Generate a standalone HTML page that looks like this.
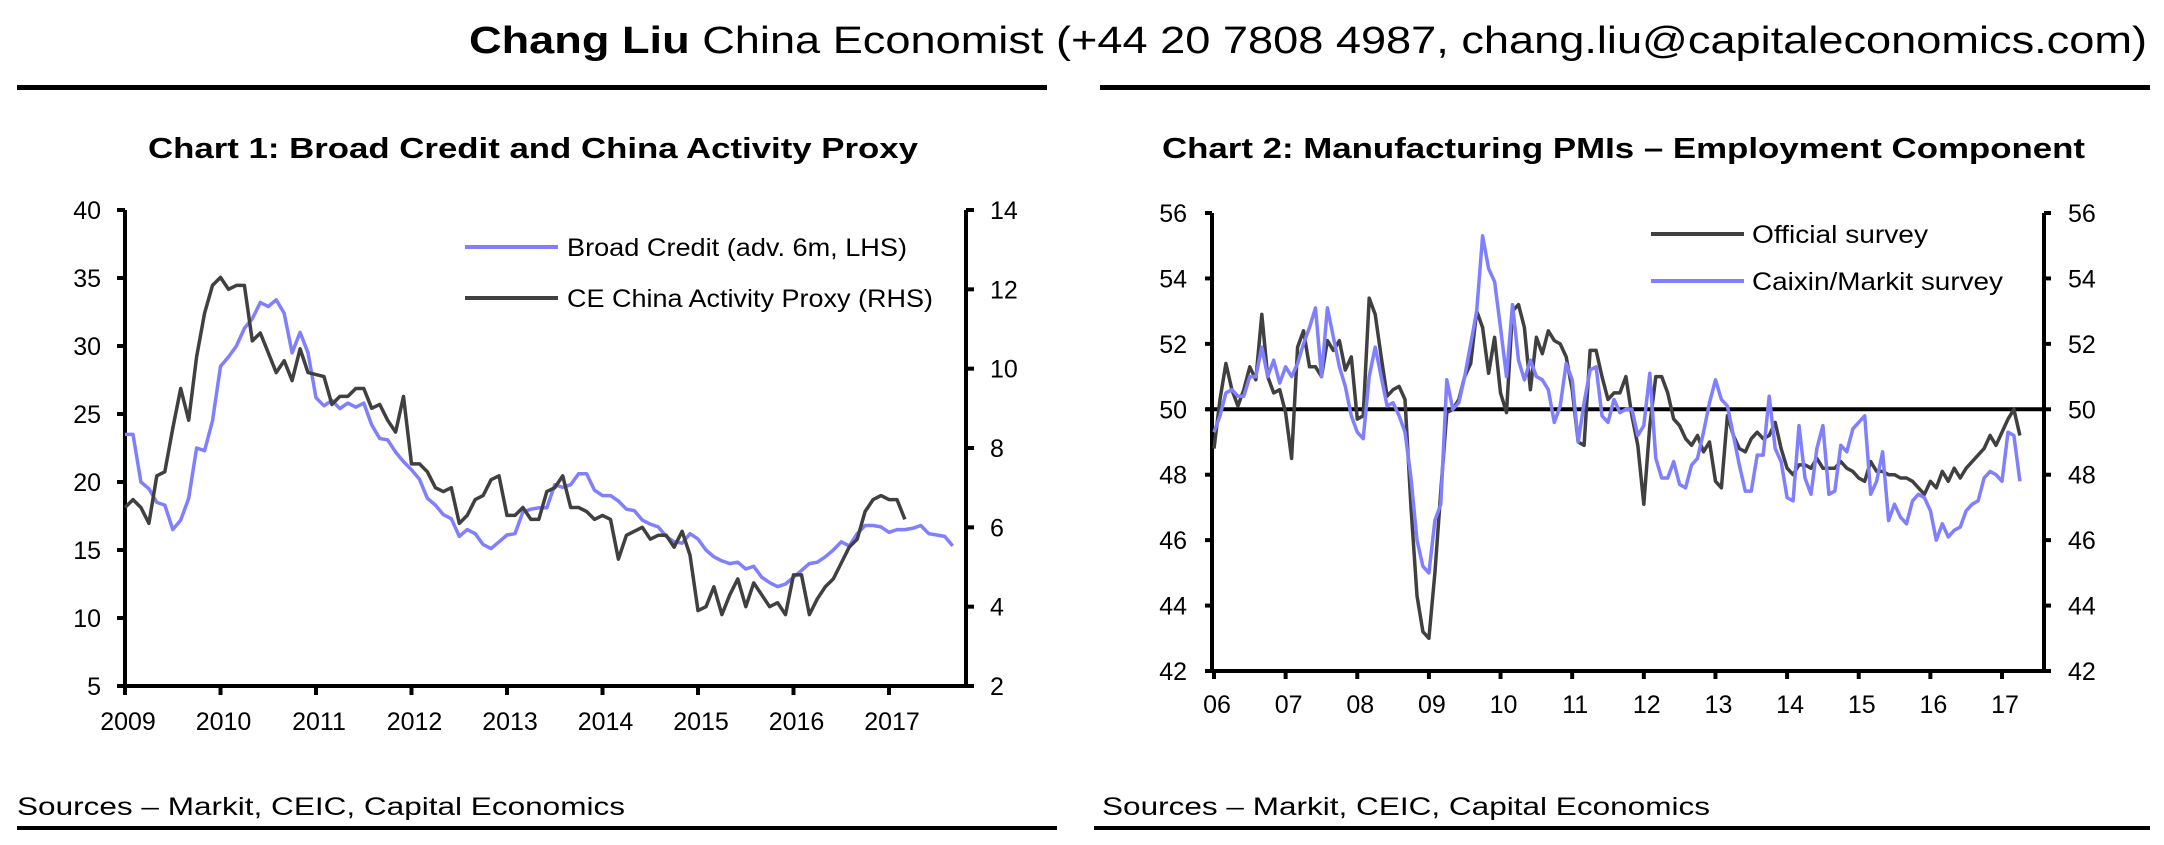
<!DOCTYPE html>
<html><head><meta charset="utf-8"><style>
html,body{margin:0;padding:0;background:#fff;}
svg{display:block;font-family:"Liberation Sans",sans-serif;}
</style></head><body>
<svg id="s" width="2164" height="845" viewBox="0 0 2164 845" xmlns="http://www.w3.org/2000/svg">
<text x="469" y="53" font-size="38" textLength="1678" lengthAdjust="spacingAndGlyphs" fill="#000"><tspan font-weight="bold">Chang Liu</tspan> China Economist (+44 20 7808 4987, chang.liu@capitaleconomics.com)</text>
<rect x="17" y="85" width="1030" height="5" fill="#000"/>
<rect x="1100" y="85" width="1050" height="5" fill="#000"/>
<text x="148" y="158" font-size="29" font-weight="bold" textLength="770" lengthAdjust="spacingAndGlyphs">Chart 1: Broad Credit and China Activity Proxy</text>
<text x="1162" y="158" font-size="29" font-weight="bold" textLength="923" lengthAdjust="spacingAndGlyphs">Chart 2: Manufacturing PMIs – Employment Component</text>
<text x="17" y="815" font-size="25" textLength="608" lengthAdjust="spacingAndGlyphs">Sources – Markit, CEIC, Capital Economics</text>
<text x="1102" y="815" font-size="25" textLength="608" lengthAdjust="spacingAndGlyphs">Sources – Markit, CEIC, Capital Economics</text>
<rect x="17" y="826" width="1040" height="4" fill="#000"/>
<rect x="1094" y="826" width="1056" height="4" fill="#000"/>
<g id="c1"></g>
<g id="c2"></g>
</svg>
<script>
const NS="http://www.w3.org/2000/svg";
// Chart 1 data (monthly from Jan 2009)
const c1LeftTicks=[5,10,15,20,25,30,35,40];
const c1RightTicks=[2,4,6,8,10,12,14];
const c1Years=[2009,2010,2011,2012,2013,2014,2015,2016,2017];
const broadCredit=[23.5,23.5,20,19.5,18.5,18.3,16.5,17.2,18.8,22.5,22.3,24.5,
28.5,29.2,30,31.3,32,33.2,32.9,33.4,32.4,29.5,31,29.5,
26.2,25.6,26,25.4,25.8,25.5,25.8,24.2,23.2,23.1,22.2,21.5,
20.9,20.2,18.8,18.3,17.6,17.3,16,16.5,16.2,15.4,15.1,15.6,
16.1,16.2,17.8,18,18.1,18.1,19.8,19.6,19.8,20.6,20.6,19.4,
19,19,18.6,18,17.9,17.2,16.9,16.7,16,15.6,15.5,16.2,
15.8,15,14.5,14.2,14,14.1,13.6,13.8,13,12.6,12.3,12.5,
13,13.5,14,14.1,14.5,15,15.6,15.3,16.2,16.8,16.8,16.7,
16.3,16.5,16.5,16.6,16.8,16.2,16.1,16,15.3];
const activityProxy=[6.5,6.7,6.5,6.1,7.3,7.4,8.5,9.5,8.7,10.3,11.4,12.1,
12.3,12,12.1,12.1,10.7,10.9,10.4,9.9,10.2,9.7,10.5,9.9,
9.85,9.8,9.1,9.3,9.3,9.5,9.5,9,9.1,8.7,8.4,9.3,
7.6,7.6,7.4,7,6.9,7,6.1,6.3,6.7,6.8,7.2,7.3,
6.3,6.3,6.5,6.2,6.2,6.9,7,7.3,6.5,6.5,6.4,6.2,
6.3,6.2,5.2,5.8,5.9,6,5.7,5.8,5.8,5.5,5.9,5.3,
3.9,4,4.5,3.8,4.3,4.7,4,4.6,4.3,4,4.1,3.8,
4.8,4.8,3.8,4.2,4.5,4.7,5.1,5.5,5.7,6.4,6.7,6.8,
6.7,6.7,6.2];
// Chart 2 data (monthly from Jan 2006)
const c2Ticks=[42,44,46,48,50,52,54,56];
const c2Years=["06","07","08","09","10","11","12","13","14","15","16","17"];
const officialPMI=[48.8,50.3,51.4,50.6,50.1,50.6,51.3,50.9,52.9,51,50.5,50.6,
49.9,48.5,51.9,52.4,51.3,51.3,51,52.1,51.8,52.1,51.2,51.6,
49.7,49.8,53.4,52.9,51.6,50.4,50.6,50.7,50.3,47,44.3,43.2,
43,45,47.5,49.9,50,50.3,51,51.4,53,52.5,51.1,52.2,
50.5,49.9,53,53.2,52.5,50.6,52.2,51.7,52.4,52.1,52,51.6,
50.6,49,48.9,51.8,51.8,51,50.3,50.5,50.5,51,49.8,48.9,
47.1,49.5,51,51,50.5,49.7,49.5,49.1,48.9,49.2,48.7,49,
47.8,47.6,49.8,49.2,48.8,48.7,49.1,49.3,49.1,49.2,49.6,48.8,
48.2,48,48.3,48.3,48.2,48.5,48.2,48.2,48.2,48.4,48.2,48.1,
47.9,47.8,48.4,48.1,48.1,48,48,47.9,47.9,47.8,47.6,47.4,
47.8,47.6,48.1,47.8,48.2,47.9,48.2,48.4,48.6,48.8,49.2,48.9,
49.3,49.7,50,49.2];
const caixinPMI=[49.3,49.8,50.5,50.6,50.4,50.4,51,51,51.9,51,51.5,50.8,
51.3,51,51.4,52,52.5,53.1,51,53.1,52.2,51.3,50.7,49.8,
49.3,49.1,51,51.9,51,50.1,50.2,49.8,49.3,47.9,46,45.2,
45,46.6,47.1,50.9,50,50.2,51,52,53,55.3,54.3,53.9,
52.5,51,53.2,51.5,50.9,51.5,51,50.9,50.6,49.6,50.1,51.4,
50.9,49,50.2,51.2,51.3,49.8,49.6,50.3,49.9,50,50,49.2,
49.5,51.1,48.5,47.9,47.9,48.4,47.7,47.6,48.3,48.5,49.3,50.2,
50.9,50.3,50.1,49.2,48.3,47.5,47.5,48.6,48.6,50.4,48.8,48.4,
47.3,47.2,49.5,47.9,47.4,48.8,49.5,47.4,47.5,48.9,48.7,49.4,
49.6,49.8,47.4,47.8,48.7,46.6,47.1,46.7,46.5,47.2,47.4,47.3,
46.9,46,46.5,46.1,46.3,46.4,46.9,47.1,47.2,47.9,48.1,48,
47.8,49.3,49.2,47.8];

function el(tag,attrs,parent,text){const e=document.createElementNS(NS,tag);for(const k in attrs)e.setAttribute(k,attrs[k]);if(text!==undefined)e.textContent=text;parent.appendChild(e);return e;}
function lin(d0,d1,r0,r1){return v=>r0+(v-d0)/(d1-d0)*(r1-r0);}

// ---- Chart 1 ----
(function(){
const g=document.getElementById('c1');
const L=125,R=966,T=210,B=686;
const x=lin(2009,2017,125,889), yl=lin(5,40,B,T), yr=lin(2,14,B,T);
const axisG=el('g',{},g);


el('line',{x1:L,y1:T,x2:L,y2:B+1.5,stroke:'#000','stroke-width':4},axisG);
el('line',{x1:R,y1:T,x2:R,y2:B+1.5,stroke:'#000','stroke-width':4},axisG);
el('line',{x1:L-2,y1:B,x2:R+2,y2:B,stroke:'#000','stroke-width':4},axisG);
c1LeftTicks.forEach(v=>{const yy=yl(v);
 el('line',{x1:L-8,y1:yy,x2:L,y2:yy,stroke:'#000','stroke-width':4},axisG);
 const t=el('text',{x:101,y:yy+9,'font-size':25,'text-anchor':'end'},axisG,String(v));
 
 });
c1RightTicks.forEach(v=>{const yy=yr(v);
 el('line',{x1:R,y1:yy,x2:R+8,y2:yy,stroke:'#000','stroke-width':4},axisG);
 const t=el('text',{x:990,y:yy+9,'font-size':25},axisG,String(v));
 
 });
c1Years.forEach(v=>{const xx=x(v);
 el('line',{x1:xx,y1:B,x2:xx,y2:B+9,stroke:'#000','stroke-width':4},axisG);
 const t=el('text',{x:xx+3,y:730,'font-size':25,'text-anchor':'middle'},axisG,String(v));
 
 });
const p1=el('polyline',{points:broadCredit.map((v,i)=>x(2009+i/12).toFixed(1)+','+yl(v).toFixed(1)).join(' '),fill:'none',stroke:'#7f7fff','stroke-width':3.5,'stroke-linejoin':'round'},g);


const p2=el('polyline',{points:activityProxy.map((v,i)=>x(2009+i/12).toFixed(1)+','+yr(v).toFixed(1)).join(' '),fill:'none',stroke:'#404040','stroke-width':3.5,'stroke-linejoin':'round'},g);


const lg=el('g',{},g);


el('line',{x1:465,y1:247,x2:558,y2:247,stroke:'#7f7fff','stroke-width':4},lg);
el('text',{x:567,y:256,'font-size':25,textLength:340,lengthAdjust:'spacingAndGlyphs'},lg,'Broad Credit (adv. 6m, LHS)');
el('line',{x1:465,y1:298,x2:558,y2:298,stroke:'#404040','stroke-width':4},lg);
el('text',{x:567,y:307,'font-size':25,textLength:366,lengthAdjust:'spacingAndGlyphs'},lg,'CE China Activity Proxy (RHS)');
})();

// ---- Chart 2 ----
(function(){
const g=document.getElementById('c2');
const L=1212,R=2044,T=213,B=671;
const x=lin(2006,2017,1214,2002), y=lin(42,56,B,T);
const axisG=el('g',{},g);


el('line',{x1:L,y1:T,x2:L,y2:B+1.5,stroke:'#000','stroke-width':4},axisG);
el('line',{x1:R,y1:T,x2:R,y2:B+1.5,stroke:'#000','stroke-width':4},axisG);
el('line',{x1:L-6,y1:B,x2:R+2,y2:B,stroke:'#000','stroke-width':4},axisG);
el('line',{x1:L-6,y1:y(50),x2:R,y2:y(50),stroke:'#000','stroke-width':4},axisG);
c2Ticks.forEach(v=>{const yy=y(v);
 el('line',{x1:L-7,y1:yy,x2:L,y2:yy,stroke:'#000','stroke-width':4},axisG);
 el('line',{x1:R,y1:yy,x2:R+7,y2:yy,stroke:'#000','stroke-width':4},axisG);
 const t=el('text',{x:1187,y:yy+9,'font-size':25,'text-anchor':'end'},axisG,String(v));
 
 
 const t2=el('text',{x:2068,y:yy+9,'font-size':25},axisG,String(v));
 
 });
c2Years.forEach((v,i)=>{const xx=x(2006+i);
 el('line',{x1:xx,y1:B,x2:xx,y2:B+8,stroke:'#000','stroke-width':4},axisG);
 const t=el('text',{x:xx+3,y:713,'font-size':25,'text-anchor':'middle'},axisG,v);
 
 });
const p1=el('polyline',{points:officialPMI.map((v,i)=>x(2006+i/12).toFixed(1)+','+y(v).toFixed(1)).join(' '),fill:'none',stroke:'#404040','stroke-width':3.5,'stroke-linejoin':'round'},g);


const p2=el('polyline',{points:caixinPMI.map((v,i)=>x(2006+i/12).toFixed(1)+','+y(v).toFixed(1)).join(' '),fill:'none',stroke:'#7f7fff','stroke-width':3.5,'stroke-linejoin':'round'},g);


const lg=el('g',{},g);


el('line',{x1:1651,y1:234,x2:1744,y2:234,stroke:'#404040','stroke-width':4},lg);
el('text',{x:1752,y:243,'font-size':25,textLength:176,lengthAdjust:'spacingAndGlyphs'},lg,'Official survey');
el('line',{x1:1651,y1:281,x2:1744,y2:281,stroke:'#7f7fff','stroke-width':4},lg);
el('text',{x:1752,y:290,'font-size':25,textLength:251,lengthAdjust:'spacingAndGlyphs'},lg,'Caixin/Markit survey');
})();
</script>
</body></html>
